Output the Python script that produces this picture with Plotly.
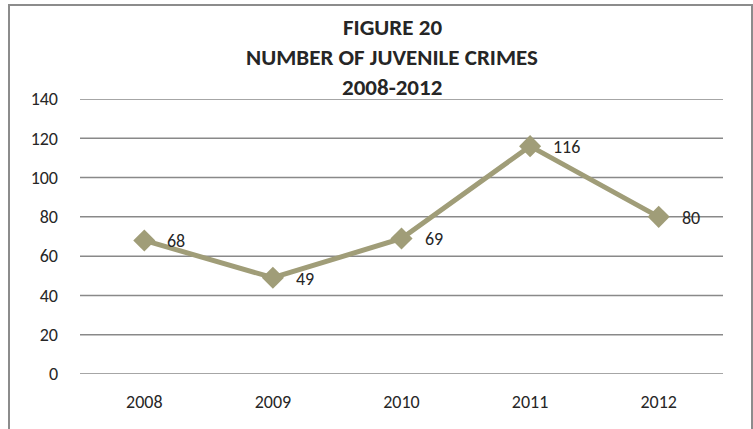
import plotly.graph_objects as go

years = ["2008", "2009", "2010", "2011", "2012"]
crimes = [68, 49, 69, 116, 80]
y_ticks = [0, 20, 40, 60, 80, 100, 120, 140]
title_lines = ["FIGURE 20", "NUMBER OF JUVENILE CRIMES", "2008-2012"]

FONT = "Carlito, Calibri, Lato, sans-serif"
TXT = "#262626"
LINE = "#A09D78"
GRID = "#898989"

W, H = 753, 429
L, R, T, B = 80, 30, 99, 55
pw, ph = W - L - R, H - T - B

def px(x):
    return (x - L) / pw

def py(y):
    return (H - B - y) / ph

fig = go.Figure()

# horizontal gridlines drawn explicitly from the tick values
for t in y_ticks:
    fig.add_shape(type="line", xref="paper", yref="y", x0=0, x1=1, y0=t, y1=t,
                  line=dict(color=GRID, width=1.5), layer="below")

fig.add_trace(go.Scatter(
    x=years, y=crimes, mode="lines+markers",
    line=dict(color=LINE, width=5),
    marker=dict(symbol="diamond", size=17, color=LINE),
    cliponaxis=False, showlegend=False,
))

for i, v in enumerate(crimes):
    fig.add_annotation(x=i, y=v, text=str(v), showarrow=False,
                       xanchor="left", yanchor="middle", xshift=21, yshift=-1,
                       font=dict(family=FONT, size=18, color=TXT))

for i, line in enumerate(title_lines):
    fig.add_annotation(xref="paper", yref="paper", x=px(392), y=py(27 + 30 * i),
                       text=f"<b>{line}</b>", showarrow=False,
                       xanchor="center", yanchor="middle",
                       font=dict(family=FONT, size=23, color=TXT))

fig.add_shape(type="rect", xref="paper", yref="paper",
              x0=px(9), x1=px(752), y0=py(440), y1=py(5),
              line=dict(color="#8C8C8C", width=2), fillcolor="rgba(0,0,0,0)",
              layer="below")

fig.update_layout(
    width=W, height=H,
    margin=dict(l=L, r=R, t=T, b=B),
    paper_bgcolor="white", plot_bgcolor="white",
    font=dict(family=FONT, color=TXT, size=18),
    xaxis=dict(type="category", range=[-0.5, len(years) - 0.5],
               showgrid=False, showline=False, zeroline=False,
               ticks="", ticklabelstandoff=15,
               tickfont=dict(family=FONT, size=18, color=TXT)),
    yaxis=dict(range=[0, 140], tickvals=y_ticks, showgrid=False,
               zeroline=False, showline=False, ticks="", ticklabelstandoff=21,
               tickfont=dict(family=FONT, size=18, color=TXT)),
)

fig.write_html("out.html", config={"displayModeBar": False},
               post_script="document.body.style.margin='0';")
